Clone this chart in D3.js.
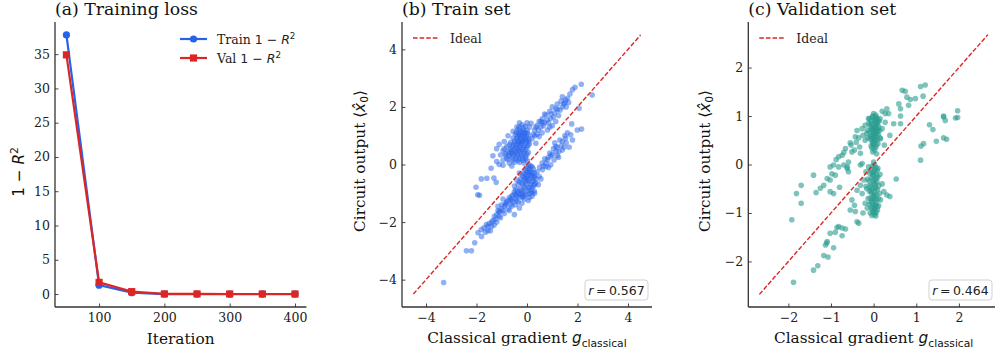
<!DOCTYPE html>
<html>
<head>
<meta charset="utf-8">
<script src="https://cdn.jsdelivr.net/npm/d3@7"></script>
<style>
  body { margin: 0; background: #fff; }
  svg { display: block; }
  .tick text { font-family: "DejaVu Serif", serif; font-size: 12.5px; fill: #222; }
  .tick line { stroke: #333; stroke-width: 0.9; }
</style>
</head>
<body>
<svg id="chart" width="995" height="356"></svg>
<script>
// ---- data ----
const iterations = [50, 100, 150, 200, 250, 300, 350, 400];
const trainLoss = [37.8, 1.3, 0.2, 0.0, 0.0, 0.0, 0.0, 0.0];
const valLoss = [34.9, 1.7, 0.35, 0.02, 0.02, 0.01, 0.01, 0.01];

const lossYTicks = [0, 5, 10, 15, 20, 25, 30, 35];
const lossXTicks = [100, 200, 300, 400];
const trainTicks = [-4, -2, 0, 2, 4];
const valTicks = [-2, -1, 0, 1, 2];

const trainR = '0.567';
const valR = '0.464';
const trainIdeal = [-4.5, 4.5];
const valIdeal = [-2.68, 2.68];

// [classical gradient, circuit output]
const trainPoints = [
  [-0.2,1.38],[-0.05,1.33],[-0.35,1.22],[-0.15,1.2],[0.0,1.18],[-0.25,1.15],
  [-0.45,1.05],[-0.3,1.03],[-0.1,1.06],[0.05,1.02],[-0.2,1.0],
  [-0.55,0.92],[-0.4,0.9],[-0.25,0.88],[-0.08,0.9],[0.08,0.88],[-0.15,0.84],
  [-0.65,0.76],[-0.5,0.75],[-0.35,0.74],[-0.2,0.72],[-0.05,0.76],[0.1,0.72],[-0.28,0.8],
  [-0.8,0.62],[-0.6,0.6],[-0.45,0.6],[-0.3,0.62],[-0.15,0.58],[0.0,0.6],[-0.38,0.55],
  [-0.95,0.48],[-0.75,0.45],[-0.6,0.46],[-0.45,0.44],[-0.3,0.45],[-0.12,0.46],[0.05,0.42],[-0.52,0.5],
  [-1.05,0.33],[-0.85,0.3],[-0.7,0.3],[-0.55,0.32],[-0.4,0.28],[-0.22,0.3],[-0.05,0.28],[-0.62,0.38],
  [-0.95,0.15],[-0.75,0.17],[-0.55,0.15],[-0.35,0.14],[-0.15,0.15],[0.02,0.12],[-0.8,0.22],[-0.45,0.2],
  [-0.42,1.12],[-0.32,1.1],[-0.18,1.1],[-0.08,1.12],[0.02,1.1],[-0.38,0.98],[-0.28,0.96],[-0.12,0.97],
  [-0.02,0.96],[-0.48,0.82],[-0.35,0.82],[-0.18,0.8],[-0.02,0.84],[0.06,0.8],[-0.42,0.68],[-0.25,0.68],
  [-0.1,0.66],[0.04,0.66],[-0.55,0.66],[-0.2,0.52],[-0.05,0.52],[-0.32,0.5],[-0.65,0.52],[-0.38,0.36],
  [-0.25,0.38],[-0.12,0.38],[0.0,0.36],[-0.48,0.38],[-0.3,0.22],[-0.18,0.22],[-0.05,0.2],[-0.6,0.24],
  [-0.12,0.05],[-0.3,0.08],[-0.5,0.08],[-0.85,0.38],[-0.7,0.4],[-0.9,0.55],[-0.7,0.68],[-0.15,1.28],[-0.3,1.3],
  [-1.2,0.55],[-1.35,0.3],[-1.2,0.1],[-1.1,0.0],[-0.95,-0.03],[-1.42,-0.13],[-1.31,-0.47],[-1.22,-0.62],
  [-1.59,-0.48],[-1.81,-0.5],[-2.02,-0.79],[-1.95,-1.05],[-1.88,-1.07],[-1.1,0.7],[-0.9,0.8],[-0.75,1.0],
  [-0.55,1.15],[-0.4,1.3],[-0.3,1.45],[0.1,1.3],[0.0,1.45],[-0.7,0.05],[-0.6,-0.05],
  [1.8,2.6],[1.9,2.68],[2.15,2.79],[2.58,2.41],[2.06,1.95],[1.4,2.35],[1.53,2.24],[1.31,1.89],[1.0,2.0],
  [0.75,1.72],[0.48,1.49],[0.16,1.43],[0.61,1.6],[0.94,1.6],[1.14,1.49],[0.81,1.2],[0.48,0.97],[0.35,0.74],
  [1.2,2.1],[1.45,2.1],[1.6,2.3],[1.1,1.8],[0.9,1.85],[0.7,1.45],[0.55,1.3],[0.3,1.2],[0.4,1.35],
  [0.25,1.05],[0.6,1.1],[1.0,1.35],[1.25,1.7],[1.55,2.0],[1.7,2.45],[0.2,0.9],[0.85,1.45],
  [0.3,1.0],[0.45,1.2],[0.65,1.35],[0.55,1.5],[0.8,1.55],[1.05,1.65],[1.2,1.9],[1.4,2.0],[1.65,2.15],
  [0.9,1.3],[0.4,1.05],[0.7,1.75],[1.35,2.2],[1.5,2.15],[1.15,1.95],[0.95,1.75],[0.6,1.45],[0.35,1.3],
  [1.99,1.2],[2.16,1.23],[1.77,1.41],[1.73,1.03],[1.8,0.85],[1.53,0.91],[1.4,0.8],[1.47,0.6],[1.27,0.45],
  [1.14,0.62],[1.07,0.16],[0.81,0.16],[0.75,-0.07],[0.94,-0.01],[0.61,-0.18],[0.48,-0.41],[0.35,-0.64],
  [0.29,-0.93],[1.4,0.5],[1.67,0.6],[1.2,0.3],[1.0,0.35],[0.9,0.4],[0.7,0.2],[0.6,0.05],[1.3,0.85],
  [1.6,1.1],[1.1,0.75],[0.5,-0.1],[0.4,-0.25],[0.55,-0.5],[0.45,-0.7],[0.3,-0.4],[0.85,-0.1],[1.25,0.25],
  [0.95,0.3],[1.15,0.45],[1.35,0.65],[1.55,0.75],[0.75,0.05],[0.65,-0.05],[1.05,0.55],[1.2,0.6],[1.5,1.0],[0.85,0.25],
  [0.15,-0.05],[0.05,-0.1],[0.25,-0.15],[-0.05,-0.2],[0.15,-0.25],[0.3,-0.3],[-0.15,-0.3],[0.05,-0.35],
  [0.2,-0.42],[-0.1,-0.45],[-0.25,-0.5],[0.1,-0.5],[0.25,-0.58],[-0.05,-0.6],[-0.2,-0.65],[-0.35,-0.7],
  [0.12,-0.7],[0.2,-0.8],[-0.1,-0.78],[-0.28,-0.85],[-0.45,-0.88],[0.05,-0.9],[0.2,-0.98],[-0.15,-0.95],
  [-0.35,-1.0],[-0.55,-1.05],[0.0,-1.05],[-0.25,-1.12],[-0.45,-1.18],[0.1,-1.15],[-0.1,-1.2],[-0.6,-1.25],
  [-0.35,-1.3],[0.0,-0.25],[-0.3,-0.3],[-0.02,-0.5],[0.3,-0.7],[-0.4,-0.55],[0.35,-0.5],[-0.2,-1.0],
  [0.05,-1.25],[0.3,-1.0],[-0.5,-0.75],
  [0.08,-0.02],[0.2,-0.08],[0.1,-0.18],[-0.02,-0.12],[0.22,-0.3],[0.08,-0.28],[-0.08,-0.35],[0.15,-0.38],
  [0.0,-0.42],[-0.18,-0.4],[0.28,-0.45],[0.05,-0.55],[-0.12,-0.55],[0.18,-0.6],[-0.3,-0.6],[0.0,-0.68],
  [-0.15,-0.72],[0.25,-0.75],[0.08,-0.8],[-0.05,-0.85],[-0.22,-0.9],[0.15,-0.9],[-0.38,-0.92],[0.1,-1.0],
  [-0.08,-1.05],[-0.3,-1.05],[0.2,-1.1],[-0.18,-1.15],[-0.4,-1.1],[-0.5,-0.95],[-0.6,-1.1],[-0.65,-1.2],
  [-0.55,-1.3],[-0.75,-1.25],[-0.85,-1.4],[-1.0,-1.4],[-0.95,-1.6],[-1.15,-1.6],[-1.25,-1.9],[-1.1,-1.8],
  [-1.4,-2.0],[-1.3,-2.1],[-1.55,-2.15],[-0.7,-1.6],[-0.4,-1.25],[-0.15,-1.1],[-0.45,-1.05],
  [-0.7,-1.15],[-0.8,-1.3],[-0.65,-1.4],[-0.9,-1.45],[-1.0,-1.55],[-0.75,-1.55],[-1.1,-1.65],[-0.9,-1.7],
  [-1.2,-1.75],[-1.29,-1.8],[-1.05,-1.85],[-1.35,-1.95],[-1.2,-2.0],[-1.5,-2.05],[-1.61,-2.09],[-1.4,-2.15],
  [-1.7,-2.2],[-1.81,-2.26],[-1.55,-2.3],[-1.94,-2.37],[-1.8,-2.5],[-2.07,-2.72],[-2.4,-3.0],[-2.2,-3.0],
  [-0.5,-1.74],[-0.3,-1.51],[-0.83,-1.34],[-1.09,-1.63],[-3.3,-4.1],[-0.6,-1.45],[-0.45,-1.4],[-0.2,-1.35],
  [-0.95,-1.2],[-1.15,-1.45],[-1.65,-2.35],[-1.45,-2.3]
];

const valPoints = [
  [0.0,1.05],[0.05,1.02],[-0.03,0.98],[0.08,0.95],[0.02,0.92],[-0.06,0.9],[0.1,0.88],[0.04,0.85],
  [-0.02,0.82],[0.07,0.8],[-0.08,0.78],[0.01,0.76],[0.09,0.73],[-0.04,0.71],[0.05,0.69],[-0.1,0.67],
  [0.02,0.65],[0.11,0.62],[-0.05,0.6],[0.06,0.58],[0.0,0.55],[-0.08,0.53],[0.08,0.5],[0.03,0.48],
  [-0.03,0.45],[0.1,0.43],[0.0,0.4],[-0.06,0.38],[0.05,0.35],[0.02,0.3],[-0.02,0.26],[0.07,0.22],
  [-0.12,0.85],[-0.15,0.7],[-0.14,0.55],[0.14,0.7],[0.13,0.9],[0.15,0.55],[-0.1,0.95],[0.03,0.72],
  [-0.01,0.62],[0.04,0.88],[-0.04,0.5],[0.12,0.78],[0.06,0.98],
  [-0.02,1.0],[0.08,0.84],[-0.07,0.84],[0.03,0.78],[-0.02,0.7],[0.07,0.64],[-0.07,0.58],[0.03,0.52],
  [-0.01,0.44],[0.06,0.4],[-0.04,0.34],[0.01,0.58],[0.04,0.94],[-0.05,0.75],[0.09,0.68],
  [0.0,0.05],[0.02,0.0],[-0.03,-0.03],[0.05,-0.06],[-0.06,-0.1],[0.08,-0.12],[0.01,-0.15],[-0.09,-0.18],
  [0.06,-0.2],[-0.02,-0.23],[0.1,-0.26],[-0.05,-0.28],[0.03,-0.31],[-0.11,-0.34],[0.08,-0.36],[0.0,-0.39],
  [-0.07,-0.42],[0.12,-0.44],[0.04,-0.47],[-0.03,-0.5],[0.09,-0.52],[-0.1,-0.55],[0.02,-0.58],[-0.05,-0.6],
  [0.07,-0.63],[0.0,-0.66],[-0.08,-0.69],[0.11,-0.71],[0.03,-0.74],[-0.04,-0.77],[0.06,-0.8],[-0.1,-0.82],
  [0.01,-0.85],[0.08,-0.87],[-0.06,-0.9],[0.03,-0.93],[-0.02,-0.96],[0.06,-0.99],[-0.08,-1.0],[0.02,-1.03],
  [-0.04,-1.05],[0.05,-1.06],[-0.14,-0.3],[-0.16,-0.5],[-0.13,-0.7],[-0.15,-0.9],[0.14,-0.6],[0.15,-0.2],
  [-0.12,-0.05],[0.12,-0.85],[0.0,-0.2],[0.04,-0.4],[-0.02,-0.7],[0.02,-0.9],[-0.18,-0.15],
  [0.03,-0.1],[-0.04,-0.16],[0.07,-0.28],[-0.01,-0.33],[0.05,-0.5],[-0.06,-0.54],[0.01,-0.62],[0.05,-0.7],
  [-0.06,-0.78],[0.04,-0.83],[-0.03,-0.88],[0.0,-0.98],[0.09,-0.94],[-0.08,-0.46],[0.1,-0.08],
  [-0.39,0.7],[-0.27,0.74],[-0.2,0.81],[-0.16,0.64],[-0.2,0.5],[-0.43,0.57],[-0.53,0.4],[-0.66,0.33],
  [-0.74,0.19],[-0.82,0.16],[-0.94,-0.01],[-1.02,-0.05],[-0.59,0.05],[-0.62,-0.08],[-0.31,0.23],[-0.27,0.02],
  [-0.51,0.26],[-0.41,0.46],[-0.33,0.36],[-0.12,0.95],[-0.25,0.6],[-0.35,0.55],[-0.55,0.45],[-0.7,0.25],
  [-0.88,0.1],[-0.45,0.3],
  [-1.41,-0.22],[-1.7,-0.43],[-1.81,-0.6],[-1.7,-0.8],[-1.92,-1.14],[-0.98,-0.19],[-0.9,-0.22],[-1.09,-0.29],
  [-1.02,-0.32],[-1.17,-0.43],[-1.35,-0.58],[-1.02,-0.56],[-0.94,-0.6],[-0.8,-0.47],[-1.25,-0.49],[-0.7,-0.01],
  [-0.62,-0.05],[-0.82,-0.05],[-0.59,-0.15],[-0.31,-0.01],
  [-1.88,-2.43],[-1.41,-2.18],[-1.31,-2.09],[-1.17,-1.88],[-1.07,-1.91],[-1.13,-1.66],[-1.09,-1.59],[-0.94,-1.72],
  [-1.02,-1.42],[-0.9,-1.4],[-0.82,-1.28],[-0.74,-1.31],[-0.66,-1.33],[-0.74,-1.47],[-0.86,-1.3],[-1.1,-1.62],
  [-0.55,-0.94],[-0.43,-0.97],[-0.39,-1.18],[-0.35,-1.21],[-0.51,-0.73],[-0.45,-0.84],[-0.27,-0.6],[-0.31,-0.43],
  [-0.23,-0.32],[-0.39,-0.53],[-0.2,-0.8],[-0.25,-1.0],[-0.18,-0.45],
  [0.31,-0.63],[0.38,-0.66],[0.24,-0.56],[0.53,-0.3],[0.16,-0.73],[0.2,-0.4],
  [1.1,1.61],[1.21,1.64],[0.67,1.53],[0.74,1.51],[0.78,1.39],[0.86,1.34],[0.98,1.36],[1.16,1.41],
  [0.59,1.25],[0.63,1.15],[0.82,1.22],[0.31,1.15],[0.35,1.05],[0.27,1.05],[0.63,1.0],[0.47,0.84],
  [0.63,0.84],[0.27,0.87],[0.2,0.74],[0.38,0.6],[0.16,0.53],[0.2,1.1],[0.15,0.95],[0.25,0.4],
  [1.64,0.98],[1.68,0.91],[1.97,1.11],[1.92,0.96],[1.97,0.97],[1.31,0.82],[1.39,0.72],[1.47,0.48],
  [1.64,0.55],[1.71,0.52],[1.17,0.43],[1.11,0.38],[1.1,0.09],[1.64,1.0]
];

const BLUE = '#2563eb';
const RED = '#dc2626';
const TEAL = '#2a9d8f';
const SERIF = '"DejaVu Serif", serif';
const SANS = '"DejaVu Sans", sans-serif';

const svg = d3.select('#chart');
const plotTop = 22, plotBottom = 307;
const intFmt = d3.format('d');

function drawFrame(g, x, y, xTicks, yTicks) {
  g.append('g')
    .attr('transform', `translate(0,${plotBottom})`)
    .call(d3.axisBottom(x).tickValues(xTicks).tickFormat(intFmt)
      .tickSizeInner(-3.5).tickSizeOuter(0).tickPadding(6))
    .call(a => a.select('.domain').remove());
  g.append('g')
    .attr('transform', `translate(${x.range()[0]},0)`)
    .call(d3.axisLeft(y).tickValues(yTicks).tickFormat(intFmt)
      .tickSizeInner(-3.5).tickSizeOuter(0).tickPadding(5))
    .call(a => a.select('.domain').remove());
  // left and bottom spines only
  g.append('line')
    .attr('x1', x.range()[0]).attr('x2', x.range()[0])
    .attr('y1', plotTop).attr('y2', plotBottom)
    .attr('stroke', '#333').attr('stroke-width', 1.3);
  g.append('line')
    .attr('x1', x.range()[0]).attr('x2', x.range()[1])
    .attr('y1', plotBottom).attr('y2', plotBottom)
    .attr('stroke', '#333').attr('stroke-width', 1.3);
}

function title(g, x0, txt) {
  g.append('text').attr('x', x0).attr('y', 15)
    .attr('font-family', SERIF).attr('font-size', 17.3).attr('fill', '#111')
    .text(txt);
}

// ---- (a) training loss ----
{
  const g = svg.append('g');
  const x = d3.scaleLinear().domain([32.5, 417.5]).range([55, 306.4]);
  const y = d3.scaleLinear().domain([-1.89, 39.69]).range([plotBottom, plotTop]);
  drawFrame(g, x, y, lossXTicks, lossYTicks);
  title(g, 55, '(a) Training loss');

  const line = d3.line().x(d => x(d[0])).y(d => y(d[1]));
  const trainData = iterations.map((it, i) => [it, trainLoss[i]]);
  const valData = iterations.map((it, i) => [it, valLoss[i]]);

  g.append('path').datum(trainData).attr('d', line)
    .attr('fill', 'none').attr('stroke', BLUE).attr('stroke-width', 2.2);
  g.selectAll('.tm').data(trainData).enter().append('circle')
    .attr('cx', d => x(d[0])).attr('cy', d => y(d[1])).attr('r', 3.6).attr('fill', BLUE);
  g.append('path').datum(valData).attr('d', line)
    .attr('fill', 'none').attr('stroke', RED).attr('stroke-width', 2.2);
  g.selectAll('.vm').data(valData).enter().append('rect')
    .attr('x', d => x(d[0]) - 3.6).attr('y', d => y(d[1]) - 3.6)
    .attr('width', 7.2).attr('height', 7.2).attr('fill', RED);

  // x label
  g.append('text').attr('x', (55 + 306.4) / 2).attr('y', 344)
    .attr('text-anchor', 'middle').attr('font-family', SERIF).attr('font-size', 15.3).attr('fill', '#111')
    .text('Iteration');
  // y label 1 - R^2
  const yl = g.append('text').attr('transform', 'translate(24,172) rotate(-90)')
    .attr('text-anchor', 'middle').attr('font-family', SANS).attr('font-size', 15.3).attr('fill', '#111');
  yl.append('tspan').text('1 \u2212 ');
  yl.append('tspan').attr('font-style', 'italic').text('R');
  yl.append('tspan').attr('font-size', '0.7em').attr('dy', '-0.55em').text('2');

  // legend
  const items = [
    { label: 'Train ', color: BLUE, shape: 'circle', y: 39 },
    { label: 'Val ', color: RED, shape: 'square', y: 58 }
  ];
  items.forEach(it => {
    g.append('line').attr('x1', 180).attr('x2', 207).attr('y1', it.y).attr('y2', it.y)
      .attr('stroke', it.color).attr('stroke-width', 2.2);
    if (it.shape === 'circle') {
      g.append('circle').attr('cx', 193.5).attr('cy', it.y).attr('r', 3.6).attr('fill', it.color);
    } else {
      g.append('rect').attr('x', 193.5 - 3.6).attr('y', it.y - 3.6).attr('width', 7.2).attr('height', 7.2).attr('fill', it.color);
    }
    const t = g.append('text').attr('x', 217).attr('y', it.y + 4.5)
      .attr('font-family', SERIF).attr('font-size', 12.5).attr('fill', '#222');
    t.append('tspan').text(it.label);
    t.append('tspan').attr('font-family', SANS).text('1 \u2212 ');
    t.append('tspan').attr('font-family', SANS).attr('font-style', 'italic').text('R');
    t.append('tspan').attr('font-family', SANS).attr('font-size', '0.7em').attr('dy', '-0.55em').text('2');
  });
}

// ---- (b), (c) scatter panels ----
function scatterPanel(opt) {
  const g = svg.append('g');
  const x = d3.scaleLinear().domain(opt.domain).range([opt.left, opt.right]);
  const y = d3.scaleLinear().domain(opt.domain).range([plotBottom, plotTop]);
  drawFrame(g, x, y, opt.ticks, opt.ticks);
  title(g, opt.left, opt.title);

  g.selectAll('.pt').data(opt.points).enter().append('circle')
    .attr('cx', d => x(d[0])).attr('cy', d => y(d[1])).attr('r', 2.8)
    .attr('fill', opt.color).attr('fill-opacity', opt.alpha);

  g.append('line')
    .attr('x1', x(opt.ideal[0])).attr('y1', y(opt.ideal[0]))
    .attr('x2', x(opt.ideal[1])).attr('y2', y(opt.ideal[1]))
    .attr('stroke', RED).attr('stroke-width', 1.4).attr('stroke-dasharray', '4.6,2');

  // legend
  g.append('line').attr('x1', opt.left + 11).attr('x2', opt.left + 37).attr('y1', 38).attr('y2', 38)
    .attr('stroke', RED).attr('stroke-width', 1.4).attr('stroke-dasharray', '4.6,2');
  g.append('text').attr('x', opt.left + 48).attr('y', 42.5)
    .attr('font-family', SERIF).attr('font-size', 12.5).attr('fill', '#222').text('Ideal');

  // r box
  g.append('rect').attr('x', opt.boxRight - 63).attr('y', 280).attr('width', 63).attr('height', 20)
    .attr('rx', 3).attr('fill', '#fff').attr('stroke', '#ccc').attr('stroke-width', 0.9);
  const rt = g.append('text').attr('x', opt.boxRight - 31.5).attr('y', 294.5).attr('text-anchor', 'middle')
    .attr('font-family', SANS).attr('font-size', 12.5).attr('fill', '#222');
  rt.append('tspan').attr('font-style', 'italic').text('r');
  rt.append('tspan').text('\u2009=\u2009' + opt.r);

  // x label
  const xl = g.append('text').attr('x', (opt.left + opt.labelRight) / 2).attr('y', 343)
    .attr('text-anchor', 'middle').attr('font-family', SERIF).attr('font-size', 15.3).attr('fill', '#111');
  xl.append('tspan').text('Classical gradient ');
  xl.append('tspan').attr('font-family', SANS).attr('font-style', 'italic').text('g');
  xl.append('tspan').attr('font-family', SANS).attr('font-size', '0.7em').attr('dy', '0.35em').text('classical');

  // y label
  const yl = g.append('text').attr('transform', `translate(${opt.ylabelX},161) rotate(-90)`)
    .attr('text-anchor', 'middle').attr('font-family', SERIF).attr('font-size', 15.3).attr('fill', '#111');
  yl.append('tspan').text('Circuit output ');
  yl.append('tspan').attr('font-family', SANS).text('\u27e8');
  yl.append('tspan').attr('font-family', SANS).attr('font-style', 'italic').text('x\u0302');
  yl.append('tspan').attr('font-family', SANS).attr('font-size', '0.7em').attr('dy', '0.3em').text('0');
  yl.append('tspan').attr('font-family', SANS).attr('dy', '-0.21em').text('\u27e9');
}

scatterPanel({
  title: '(b) Train set', left: 402, right: 652, domain: [-4.95, 4.95],
  ticks: trainTicks, points: trainPoints, color: BLUE, alpha: 0.5,
  ideal: trainIdeal, r: trainR, boxRight: 648, ylabelX: 365, labelRight: 652
});
scatterPanel({
  title: '(c) Validation set', left: 748.3, right: 999, domain: [-2.94, 2.94],
  ticks: valTicks, points: valPoints, color: TEAL, alpha: 0.6,
  ideal: valIdeal, r: valR, boxRight: 992, ylabelX: 710, labelRight: 999
});
</script>
</body>
</html>
